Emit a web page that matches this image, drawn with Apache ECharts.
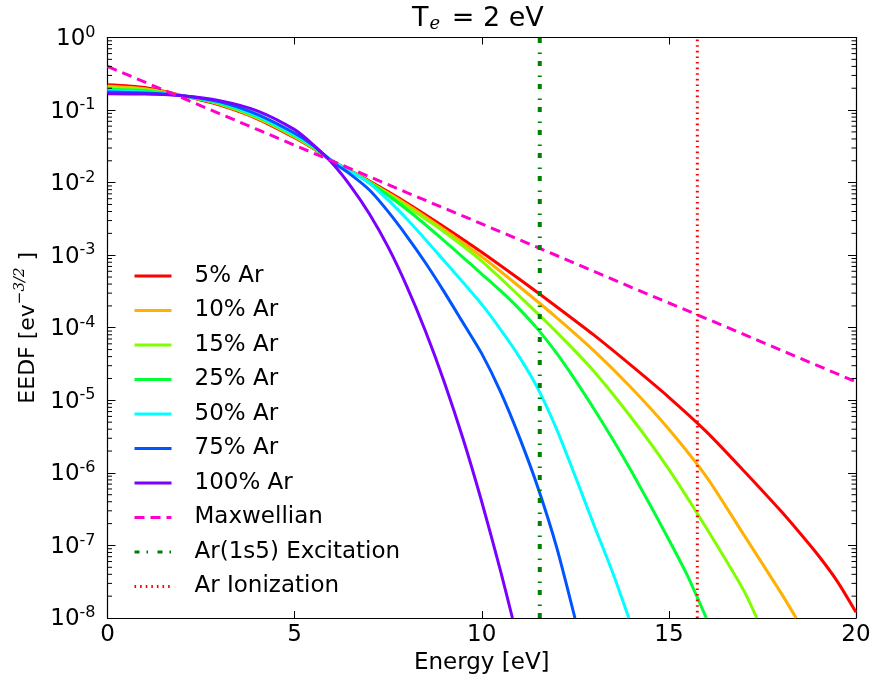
<!DOCTYPE html>
<html>
<head>
<meta charset="utf-8">
<script src="https://cdn.jsdelivr.net/npm/echarts@6/dist/echarts.min.js"></script>
<style>
html,body{margin:0;padding:0;background:#fff;}
#chart{width:878px;height:685px;}
</style>
</head>
<body>
<div id="chart"></div>
<script>
// ---- data (energy in eV, EEDF in eV^-3/2) ----
const seriesNames = ['5% Ar','10% Ar','15% Ar','25% Ar','50% Ar','75% Ar','100% Ar','Maxwellian','Ar(1s5) Excitation','Ar Ionization'];

const energy_5 = [0,1,2,3,4,5,5.5,6,7,8,9,10,11,12,13,14,15,16,17,18,18.5,19,19.5,20];
const eedf_5 = [0.223,0.204,0.158,0.117,0.0759,0.0417,0.0295,0.020,0.0105,5.25e-3,2.45e-3,1.1e-3,4.7e-4,1.95e-4,7.9e-5,3.0e-5,1.1e-5,3.7e-6,1.07e-6,2.95e-7,1.48e-7,7.2e-8,3.2e-8,1.2e-8];

const energy_10 = [0,1,2,3,4,5,5.5,6,7,8,9,10,11,12,13,14,15,16,17,18,18.4];
const eedf_10 = [0.213,0.197,0.158,0.120,0.0776,0.0427,0.0299,0.020,0.0102,5.0e-3,2.24e-3,9.5e-4,3.7e-4,1.38e-4,4.8e-5,1.48e-5,4.0e-6,8.9e-7,1.41e-7,2.2e-8,1.0e-8];

const energy_15 = [0,1,2,3,4,5,5.5,6,7,8,9,10,11,12,13,14,15,16,17,17.35];
const eedf_15 = [0.203,0.191,0.158,0.122,0.0794,0.0437,0.0302,0.020,0.0102,4.7e-3,2.09e-3,8.3e-4,2.75e-4,8.7e-5,2.5e-5,5.75e-6,1.12e-6,1.74e-7,2.4e-8,1.0e-8];

const energy_25 = [0,1,2,3,4,5,5.5,6,7,8,9,10,10.5,11,11.5,12,12.5,13,13.5,14,14.5,15,15.5,16];
const eedf_25 = [0.194,0.184,0.158,0.124,0.0813,0.0447,0.0309,0.020,0.010,4.27e-3,1.58e-3,5.5e-4,3.24e-4,1.82e-4,9.5e-5,4.47e-5,1.9e-5,7.6e-6,2.9e-6,1.05e-6,3.6e-7,1.2e-7,3.8e-8,1.0e-8];

const energy_50 = [0,1,2,3,4,5,5.5,6,7,8,9,10,10.5,11,11.5,12,12.5,13,13.5,13.93];
const eedf_50 = [0.185,0.178,0.158,0.127,0.0832,0.0457,0.0316,0.020,9.8e-3,3.16e-3,8.3e-4,2.1e-4,9.5e-5,4.0e-5,1.45e-5,4.0e-6,8.9e-7,1.9e-7,4.2e-8,1.0e-8];

const energy_75 = [0,1,2,3,4,5,5.5,6,6.5,7,7.5,8,8.5,9,9.5,10,10.5,11,11.5,12,12.49];
const eedf_75 = [0.177,0.172,0.158,0.130,0.0871,0.0479,0.0324,0.0195,0.0129,7.9e-3,3.98e-3,1.82e-3,7.8e-4,3.1e-4,1.17e-4,4.4e-5,1.32e-5,3.16e-6,6.3e-7,9.5e-8,1.0e-8];

const energy_100 = [0,1,2,3,4,5,5.5,6,6.5,7,7.5,8,8.5,9,9.5,10,10.5,10.82];
const eedf_100 = [0.168,0.166,0.158,0.135,0.0977,0.0537,0.0331,0.0186,8.9e-3,3.7e-3,1.29e-3,3.7e-4,8.9e-5,1.78e-5,2.95e-6,4.0e-7,4.5e-8,1.0e-8];

const energy_max = [0,2,4,6,8,10,12,14,16,18,20];
const eedf_max = [0.40,0.147,0.054,0.0199,7.3e-3,2.7e-3,9.9e-4,3.6e-4,1.34e-4,4.9e-5,1.8e-5];

const excitationEnergy = 11.55;
const ionizationEnergy = 15.76;

const xTicks = [0,5,10,15,20];
const yMin = 1e-8, yMax = 1;

// ---- build option ----
const curveColors = ['#ff0000','#ffb000','#80ff00','#00ff33','#00ffff','#0055ff','#7a00ff'];
const curveX = [energy_5,energy_10,energy_15,energy_25,energy_50,energy_75,energy_100];
const curveY = [eedf_5,eedf_10,eedf_15,eedf_25,eedf_50,eedf_75,eedf_100];

function pairs(xs, ys){ return xs.map((x,i)=>[x, ys[i]]); }

const series = [];
for (let i=0;i<7;i++){
  series.push({
    name: seriesNames[i], type:'line', data: pairs(curveX[i], curveY[i]),
    symbol:'none', smooth:0.25, lineStyle:{color:curveColors[i], width:3}, itemStyle:{color:curveColors[i]},
    z: 2+i
  });
}
series.push({
  name: seriesNames[7], type:'line', data: pairs(energy_max, eedf_max),
  symbol:'none', lineStyle:{color:'#ff00cc', width:3, type:[10,6]}, itemStyle:{color:'#ff00cc'}, z:10
});
series.push({
  name: seriesNames[8], type:'line', data: [[excitationEnergy, yMin],[excitationEnergy, yMax]],
  symbol:'none', lineStyle:{color:'#008000', width:4, type:[5,7,1.5,9.5]}, itemStyle:{color:'#008000'}, z:11
});
series.push({
  name: seriesNames[9], type:'line', data: [[ionizationEnergy, yMin],[ionizationEnergy, yMax]],
  symbol:'none', lineStyle:{color:'#ff0000', width:3, type:[1.6,4]}, itemStyle:{color:'#ff0000'}, z:12
});

// minor log ticks (2..9 x 10^n) drawn on left and right frame edges
const minorTickValues = [];
for (let n=-8;n<0;n++) for (let k=2;k<10;k++) minorTickValues.push([0, k*Math.pow(10,n)]);
series.push({
  type:'custom', silent:true, z:20, clip:false,
  data: minorTickValues,
  renderItem: function(params, api){
    const v = api.value(1);
    const pL = api.coord([xTicks[0], v]);
    const pR = api.coord([xTicks[xTicks.length-1], v]);
    return {type:'group', children:[
      {type:'line', shape:{x1:pL[0], y1:pL[1], x2:pL[0]+4.5, y2:pL[1]}, style:{stroke:'#000', lineWidth:1}},
      {type:'line', shape:{x1:pR[0], y1:pR[1], x2:pR[0]-4.5, y2:pR[1]}, style:{stroke:'#000', lineWidth:1}}
    ]};
  }
});

const FONT = 'DejaVu Sans';
const axisLineStyle = {color:'#000', width:1.2};

const option = {
  animation:false,
  backgroundColor:'#fff',
  textStyle:{fontFamily:FONT},
  title:{
    text:'{t|T}{s|e}{t| = 2 eV}',
    left:412, top:5.5, padding:0,
    textStyle:{
      rich:{
        t:{fontFamily:FONT, fontSize:27, fontWeight:'normal', color:'#000', verticalAlign:'top', lineHeight:28},
        s:{fontFamily:'DejaVu Serif', fontStyle:'italic', fontWeight:'normal', fontSize:18, color:'#000', verticalAlign:'bottom', lineHeight:6, padding:[0,3,0,1]}
      }
    }
  },
  grid:{left:107.5, right:22, top:37.5, bottom:67, containLabel:false},
  legend:{
    orient:'vertical', left:133, top:264, padding:0,
    data: seriesNames,
    itemWidth:37, itemHeight:14, itemGap:10.5,
    itemStyle:{opacity:0, borderWidth:0},
    lineStyle:{width:3},
    textStyle:{fontFamily:FONT, fontSize:23, color:'#000', height:24, lineHeight:24, padding:[0,0,0,18]},
    selectedMode:false
  },
  xAxis:[{
    type:'value', min:0, max:20, interval:5, position:'bottom',
    name:'Energy [eV]', nameLocation:'middle', nameGap:33,
    nameTextStyle:{fontFamily:FONT, fontSize:23, color:'#000'},
    axisLine:{show:true, onZero:false, lineStyle:axisLineStyle},
    axisTick:{show:true, inside:true, length:7, lineStyle:{color:'#000', width:1}},
    axisLabel:{fontFamily:FONT, fontSize:23, color:'#000', margin:6},
    splitLine:{show:false}
  },{
    type:'value', min:0, max:20, interval:5, position:'top',
    axisLine:{show:true, onZero:false, lineStyle:axisLineStyle},
    axisTick:{show:true, inside:true, length:7, lineStyle:{color:'#000', width:1}},
    axisLabel:{show:false}, splitLine:{show:false}
  }],
  yAxis:[{
    type:'log', logBase:10, min:yMin, max:yMax, interval:1, position:'left',
    name:'{n|EEDF [ev}{sup|−3/2}{n| ]}', nameLocation:'middle', nameGap:62, nameRotate:90,
    nameTextStyle:{
      rich:{
        n:{fontFamily:FONT, fontSize:22, color:'#000', verticalAlign:'bottom', lineHeight:27},
        sup:{fontFamily:'DejaVu Serif', fontStyle:'italic', fontSize:15, color:'#000', verticalAlign:'top', lineHeight:27}
      }
    },
    axisLine:{show:true, onZero:false, lineStyle:axisLineStyle},
    axisTick:{show:true, inside:true, length:8, lineStyle:{color:'#000', width:1}},
    axisLabel:{
      margin:12,
      formatter:function(v){ const e = Math.round(Math.log10(v)); return '{b|10}{s|' + e + '}'; },
      rich:{
        b:{fontFamily:FONT, fontSize:23, color:'#000', verticalAlign:'bottom', lineHeight:26},
        s:{fontFamily:FONT, fontSize:16, color:'#000', verticalAlign:'top', lineHeight:26}
      }
    },
    splitLine:{show:false}, minorTick:{show:false}
  },{
    type:'log', logBase:10, min:yMin, max:yMax, interval:1, position:'right',
    axisLine:{show:true, onZero:false, lineStyle:axisLineStyle},
    axisTick:{show:true, inside:true, length:8, lineStyle:{color:'#000', width:1}},
    axisLabel:{show:false}, splitLine:{show:false}
  }],
  series: series
};

const chart = echarts.init(document.getElementById('chart'), null, {renderer:'canvas'});
chart.setOption(option);
</script>
</body>
</html>
